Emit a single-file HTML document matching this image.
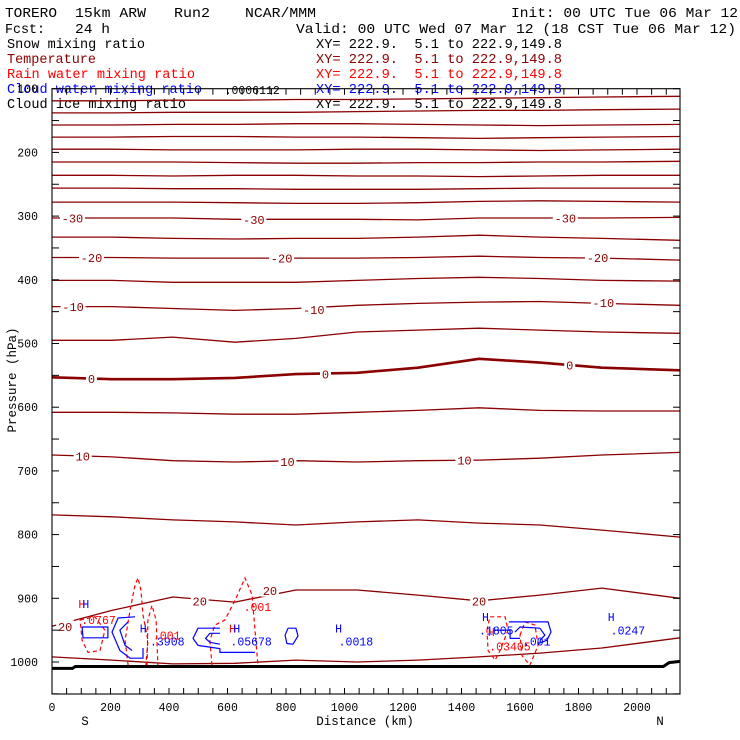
<!DOCTYPE html>
<html><head><meta charset="utf-8">
<style>
html,body{margin:0;padding:0;background:#fff;}
svg{display:block;}
text{font-family:"Liberation Mono",monospace;white-space:pre;}
</style></head>
<body>
<svg id="chart" width="740" height="740" viewBox="0 0 740 740" xmlns="http://www.w3.org/2000/svg" xml:space="preserve">
<g font-size="14">
<text x="5" y="17" textLength="52" lengthAdjust="spacingAndGlyphs">TORERO</text>
<text x="75" y="17" textLength="71" lengthAdjust="spacingAndGlyphs">15km ARW</text>
<text x="174" y="17" textLength="36" lengthAdjust="spacingAndGlyphs">Run2</text>
<text x="245" y="17" textLength="71" lengthAdjust="spacingAndGlyphs">NCAR/MMM</text>
<text x="511" y="17" textLength="227" lengthAdjust="spacingAndGlyphs">Init: 00 UTC Tue 06 Mar 12</text>
<text x="5" y="33" textLength="40" lengthAdjust="spacingAndGlyphs">Fcst:</text>
<text x="75" y="33" textLength="35" lengthAdjust="spacingAndGlyphs">24 h</text>
<text x="296" y="33" textLength="440" lengthAdjust="spacingAndGlyphs">Valid: 00 UTC Wed 07 Mar 12 (18 CST Tue 06 Mar 12)</text>
</g>
<g font-size="13.5">
<text x="7" y="48" fill="#000" textLength="138" lengthAdjust="spacingAndGlyphs">Snow mixing ratio</text>
<text x="316" y="48" fill="#000" textLength="246" lengthAdjust="spacingAndGlyphs">XY= 222.9.  5.1 to 222.9,149.8</text>
<text x="7" y="63" fill="#8b0000" textLength="89" lengthAdjust="spacingAndGlyphs">Temperature</text>
<text x="316" y="63" fill="#8b0000" textLength="246" lengthAdjust="spacingAndGlyphs">XY= 222.9.  5.1 to 222.9,149.8</text>
<text x="7" y="78" fill="#ff0000" textLength="188" lengthAdjust="spacingAndGlyphs">Rain water mixing ratio</text>
<text x="316" y="78" fill="#ff0000" textLength="246" lengthAdjust="spacingAndGlyphs">XY= 222.9.  5.1 to 222.9,149.8</text>
<text x="7" y="93" fill="#0000ff" textLength="195" lengthAdjust="spacingAndGlyphs">Cloud water mixing ratio</text>
<text x="316" y="93" fill="#0000ff" textLength="246" lengthAdjust="spacingAndGlyphs">XY= 222.9.  5.1 to 222.9,149.8</text>
<text x="7" y="108" fill="#000" textLength="179" lengthAdjust="spacingAndGlyphs">Cloud ice mixing ratio</text>
<text x="316" y="108" fill="#000" textLength="246" lengthAdjust="spacingAndGlyphs">XY= 222.9.  5.1 to 222.9,149.8</text>
</g>
<g id="plot"></g>
<text x="0" y="0" font-size="12.5" transform="translate(16,380) rotate(-90)" text-anchor="middle">Pressure (hPa)</text>
<text x="365" y="725" font-size="12.5" text-anchor="middle">Distance (km)</text>
<text x="85" y="725" font-size="12.5" text-anchor="middle">S</text>
<text x="660" y="725" font-size="12.5" text-anchor="middle">N</text>
</svg>
<script>
const xTicks = [0,200,400,600,800,1000,1200,1400,1600,1800,2000];
const yTicks = [100,200,300,400,500,600,700,800,900,1000];
const nodeDist = [0,205,413,625,834,1043,1251,1460,1668,1880,2147];
const tempLevels = [-75,-70,-65,-60,-55,-50,-45,-40,-35,-30,-25,-20,-15,-10,-5,0,5,10,15,20,25];
const tempP_m75 = [119,119,118,118,117,117,116,115,114,113,112];
const tempP_m70 = [138,138,137,137,137,136,135,134,134,133,132];
const tempP_m65 = [157,157,156,156,155,155,156,157,158,157,156];
const tempP_m60 = [176,176,175,175,176,176,177,178,177,176,175];
const tempP_m55 = [195,195,196,196,196,195,195,196,197,196,195];
const tempP_m50 = [215,215,215,216,217,217,216,216,215,215,214];
const tempP_m45 = [236,236,237,236,236,237,237,238,237,236,236];
const tempP_m40 = [256,256,257,257,258,258,258,257,256,256,256];
const tempP_m35 = [278,278,278,279,280,280,279,277,276,277,278];
const tempP_m30 = [303,303,303,305,305,305,306,303,303,303,302];
const tempP_m25 = [333,333,335,336,335,335,333,330,333,335,338];
const tempP_m20 = [365,365,366,366,366,366,365,363,365,366,369];
const tempP_m15 = [401,401,404,404,404,401,398,396,398,401,402];
const tempP_m10 = [442,442,445,448,445,440,437,435,434,437,440];
const tempP_m5 = [495,495,490,498,492,482,479,476,479,482,484];
const tempP_0 = [553,556,556,554,548,546,538,524,530,538,542];
const tempP_5 = [608,608,609,611,611,608,605,601,605,606,606];
const tempP_10 = [675,678,684,686,684,686,684,683,680,675,671];
const tempP_15 = [769,772,777,780,785,780,777,782,785,793,804];
const tempP_20 = [944,919,898,906,887,887,895,904,895,884,900];
const tempP_25 = [992,997,1003,1002,997,1000,997,992,986,978,962];
const tempSeries = [tempP_m75,tempP_m70,tempP_m65,tempP_m60,tempP_m55,tempP_m50,tempP_m45,tempP_m40,tempP_m35,tempP_m30,tempP_m25,tempP_m20,tempP_m15,tempP_m10,tempP_m5,tempP_0,tempP_5,tempP_10,tempP_15,tempP_20,tempP_25];
const tempLabels = [[-30,70,303],[-30,690,305],[-30,1755,303],[-20,135,365],[-20,785,366],[-20,1865,365],[-10,72,442],[-10,895,447],[-10,1885,436],[0,135,555],[0,935,548],[0,1770,534],[10,105,677],[10,805,685],[10,1410,683],[20,45,944],[20,505,904],[20,745,888],[20,1460,904]];
const surfDist = [0,70,80,2090,2110,2147];
const surfP = [1010,1010,1007,1007,1001,999];
const rain1 = [[260,1005],[250,966],[267,918],[284,879],[294,868],[304,887],[311,926],[328,966],[321,1005]];
const rain2 = [[325,1005],[328,934],[342,911],[356,934],[362,1005]];
const rain3 = [[96,934],[147,929],[181,950],[164,982],[123,985],[103,966],[96,934]];
const rain4 = [[547,1005],[540,966],[557,942],[591,934],[626,903],[660,868],[684,895],[694,950],[704,1005]];
const rain5 = [[1487,950],[1497,929],[1549,929],[1559,950],[1532,982],[1515,997],[1491,982],[1487,950]];
const rain6 = [[1600,958],[1617,937],[1651,942],[1662,974],[1634,1005],[1607,990],[1600,958]];
const cloud1 = [[103,945],[191,945],[191,962],[106,962],[103,945]];
const cloud2 = [[284,929],[226,931],[205,953],[232,982],[267,994],[311,994],[311,978]];
const cloud3 = [[260,937],[232,950],[250,974],[274,982]];
const cloud4 = [[574,947],[499,947],[482,963],[499,974],[574,979],[574,985],[694,985]];
const cloud5 = [[574,955],[540,955],[525,963],[540,969],[574,972]];
const cloud6 = [[807,947],[834,947],[841,959],[824,972],[803,971],[797,958],[807,947]];
const cloud7 = [[1562,937],[1696,937],[1706,953],[1692,966],[1662,971]];
const cloud8 = [[1583,953],[1600,945],[1668,947],[1685,958],[1668,966]];
const cloud9 = [[1508,950],[1566,950],[1566,963],[1600,963]];
const maxLabels = [["H",90,915,"#ff0000"],["H",104,915,"#0000ff"],[".0767",100,940,"#ff0000"],["H",300,954,"#0000ff"],[".3908",335,974,"#0000ff"],[".001",345,965,"#ff0000"],["H",605,954,"#ff0000"],["H",620,954,"#0000ff"],[".05678",610,974,"#0000ff"],[".001",655,920,"#ff0000"],["H",968,954,"#0000ff"],[".0018",980,974,"#0000ff"],["H",1470,936,"#0000ff"],[".1805",1460,957,"#0000ff"],["H",1490,959,"#ff0000"],[".03405",1495,982,"#ff0000"],[".001",1610,974,"#0000ff"],["H",1900,936,"#0000ff"],[".0247",1910,957,"#0000ff"],[".0006112",590,108,"#000"]];

const NS='http://www.w3.org/2000/svg';
const L=52, R=680, T=88.7, B=694;
function X(d){return 52 + d*0.2925;}
function Y(p){return 88.7 + (p-100)*0.637;}
const plot=document.getElementById('plot');
function mk(tag,attrs,parent){const e=document.createElementNS(NS,tag);for(const k in attrs)e.setAttribute(k,attrs[k]);(parent||plot).appendChild(e);return e;}

const tg=mk('g',{});


tempSeries.forEach((arr,i)=>{
  const pts=arr.map((p,j)=>X(nodeDist[j]).toFixed(1)+','+Y(p).toFixed(1)).join(' ');
  const pl=mk('polyline',{points:pts,fill:'none',stroke:'#8b0000','stroke-width':tempLevels[i]===0?2.6:1.3,'stroke-linejoin':'round'},tg);
  
  
});
tempLabels.forEach(l=>{
  const s=String(l[0]); const w=s.length*7+4;
  const x=X(l[1]), y=Y(l[2]);
  const r=mk('rect',{x:x-w/2,y:y-6,width:w,height:12,fill:'#fff'},tg);
  
  
  const t=mk('text',{x:x,y:y+4.5,'font-size':12,'text-anchor':'middle',fill:'#8b0000'},tg);
  t.textContent=s;
  
  
});
const rg=mk('g',{});


[rain1,rain2,rain3,rain4,rain5,rain6].forEach(a=>{
  const pl=mk('polyline',{points:a.map(q=>X(q[0]).toFixed(1)+','+Y(q[1]).toFixed(1)).join(' '),fill:'none',stroke:'#ff0000','stroke-width':1.2,'stroke-dasharray':'4,3'},rg);
  
  
});
const cg=mk('g',{});


[cloud1,cloud2,cloud3,cloud4,cloud5,cloud6,cloud7,cloud8,cloud9].forEach(a=>{
  const pl=mk('polyline',{points:a.map(q=>X(q[0]).toFixed(1)+','+Y(q[1]).toFixed(1)).join(' '),fill:'none',stroke:'#0000ff','stroke-width':1.2,'stroke-linejoin':'round'},cg);
  
  
});
maxLabels.forEach(m=>{
  const t=mk('text',{x:X(m[1]),y:Y(m[2]),'font-size':11.5,fill:m[3]});
  t.textContent=m[0];
  
  
});
const sp=mk('polyline',{points:surfDist.map((d,i)=>X(d).toFixed(1)+','+Y(surfP[i]).toFixed(1)).join(' '),fill:'none',stroke:'#000','stroke-width':3});


const fr=mk('rect',{x:L,y:T,width:R-L,height:B-T,fill:'none',stroke:'#000','stroke-width':1.1});


const tk=mk('g',{stroke:'#000','stroke-width':1});


for(let d=0; X(d)<R; d+=50){
  const x=X(d);
  mk('line',{x1:x,y1:B,x2:x,y2:B-6},tk);
  mk('line',{x1:x,y1:T,x2:x,y2:T+6},tk);
}
for(let p=100;p<=1050;p+=50){
  const y=Y(p);
  mk('line',{x1:L,y1:y,x2:L+7,y2:y},tk);
  mk('line',{x1:R,y1:y,x2:R-7,y2:y},tk);
}
xTicks.forEach(v=>{
  const t=mk('text',{x:X(v),y:711,'font-size':11.5,'text-anchor':'middle'});
  t.textContent=v;
  
  
});
yTicks.forEach(v=>{
  const t=mk('text',{x:38,y:Y(v)+4,'font-size':11.5,'text-anchor':'end'});
  t.textContent=v;
  
  
});
</script>
</body></html>
